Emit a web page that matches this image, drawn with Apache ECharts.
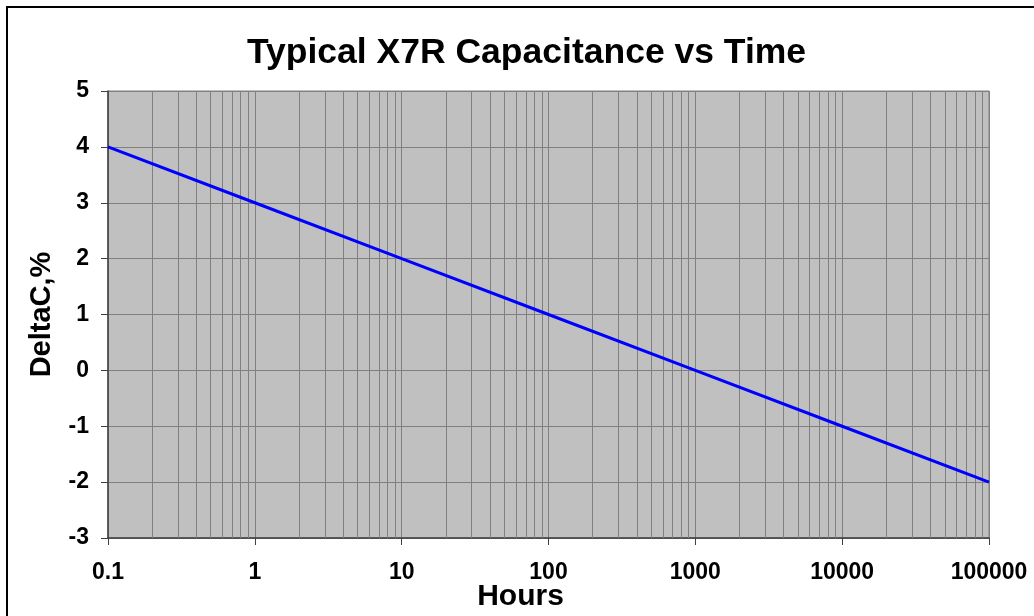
<!DOCTYPE html>
<html>
<head>
<meta charset="utf-8">
<script src="https://cdn.jsdelivr.net/npm/echarts@6/dist/echarts.min.js"></script>
<style>
html,body{margin:0;padding:0;background:#fff;}
#chart{width:1034px;height:616px;}
</style>
</head>
<body>
<div id="chart"></div>
<script>
var hours = [0.1, 1, 10, 100, 1000, 10000, 100000];
var deltaC = [4, 3, 2, 1, 0, -1, -2];
var xTickLabels = ['0.1', '1', '10', '100', '1000', '10000', '100000'];
var yTickLabels = ['-3', '-2', '-1', '0', '1', '2', '3', '4', '5'];
var decades = [0.1, 1, 10, 100, 1000, 10000];
var multipliers = [2, 3, 4, 5, 6, 7, 8, 9];

var minorLines = [];
decades.forEach(function (d) {
  multipliers.forEach(function (m) {
    minorLines.push({ xAxis: +(d * m).toPrecision(6) });
  });
});

var FONT = '"Liberation Sans", Arial, sans-serif';
var chart = echarts.init(document.getElementById('chart'));
chart.setOption({
  animation: false,
  backgroundColor: '#ffffff',
  title: {
    text: 'Typical X7R Capacitance vs Time',
    left: 242,
    top: 30,
    textStyle: { fontFamily: FONT, fontWeight: 'bold', fontSize: 35.5, color: '#000' }
  },
  graphic: [{
    type: 'rect',
    shape: { x: 7, y: 7, width: 1050, height: 640 },
    style: { fill: 'none', stroke: '#000', lineWidth: 2 },
    silent: true
  }],
  grid: {
    left: 108, right: 45, top: 91, bottom: 78,
    containLabel: false, outerBoundsMode: 'none',
    show: true, backgroundColor: '#c0c0c0', borderColor: '#808080', borderWidth: 1
  },
  xAxis: {
    type: 'log', logBase: 10, min: 0.1, max: 100000,
    name: 'Hours', nameLocation: 'middle', nameGap: 44, nameMoveOverlap: false,
    nameTextStyle: { fontFamily: FONT, fontWeight: 'bold', fontSize: 30, color: '#000', padding: [0, 56, 0, 0] },
    axisLine: { show: true, onZero: false, lineStyle: { color: '#404040', width: 1.5 } },
    axisTick: { show: true, length: 7, lineStyle: { color: '#404040' } },
    axisLabel: {
      margin: 23, fontFamily: FONT, fontWeight: 'bold', fontSize: 23, color: '#000',
      formatter: function (v, i) { return xTickLabels[i] !== undefined ? xTickLabels[i] : ''; }
    },
    splitLine: { show: true, lineStyle: { color: '#808080', width: 1 } }
  },
  yAxis: {
    type: 'value', min: -3, max: 5, interval: 1,
    name: 'DeltaC,%', nameLocation: 'middle', nameGap: 52, nameRotate: 90, nameMoveOverlap: false,
    nameTextStyle: { fontFamily: FONT, fontWeight: 'bold', fontSize: 29, color: '#000' },
    axisLine: { show: true, onZero: false, lineStyle: { color: '#404040', width: 1.5 } },
    axisTick: { show: true, length: 7, lineStyle: { color: '#404040' } },
    axisLabel: {
      margin: 19, fontFamily: FONT, fontWeight: 'bold', fontSize: 23, color: '#000',
      formatter: function (v, i) { return yTickLabels[i] !== undefined ? yTickLabels[i] : String(v); }
    },
    splitLine: { show: true, lineStyle: { color: '#808080', width: 1 } }
  },
  series: [{
    type: 'line',
    data: hours.map(function (h, i) { return [h, deltaC[i]]; }),
    showSymbol: false,
    symbol: 'none',
    lineStyle: { color: '#0000ff', width: 3 },
    markLine: {
      silent: true,
      symbol: 'none',
      label: { show: false },
      lineStyle: { color: '#808080', width: 1, type: 'solid' },
      data: minorLines,
      z: 1
    }
  }]
});
</script>
</body>
</html>
